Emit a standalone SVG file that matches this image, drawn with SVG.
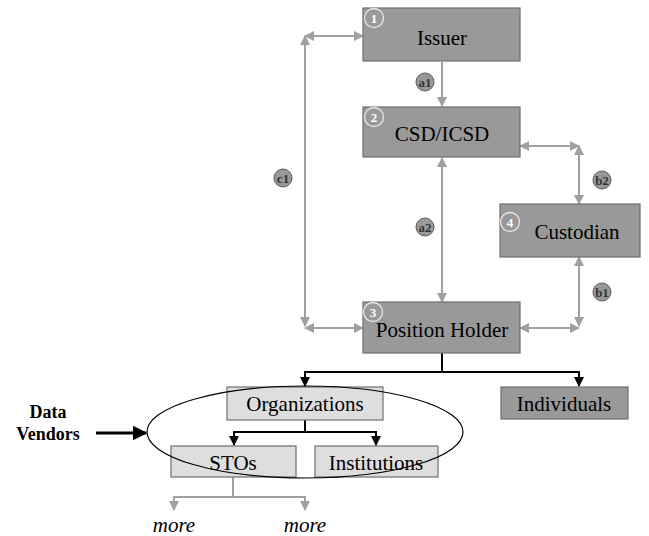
<svg xmlns="http://www.w3.org/2000/svg" width="649" height="536" viewBox="0 0 649 536">
<defs>
<style>
text{font-family:"DejaVu Serif","Liberation Serif","Times New Roman",serif}
.dk{fill:#999999;stroke:#6e6e6e;stroke-width:1.2}
.lt{fill:#dedede;stroke:#6e6e6e;stroke-width:1.2}
.t{font-family:"Liberation Serif","Times New Roman",serif;font-size:21px;fill:#000;text-anchor:middle}
.num{fill:#999999;stroke:#e6e6e6;stroke-width:1.3}
.numt{font-family:"Liberation Serif",serif;font-size:13px;font-weight:bold;fill:#fff;text-anchor:middle}
.lab{fill:#999999;stroke:#5a5a5a;stroke-width:1}
.labt{font-family:"Liberation Serif",serif;font-size:13px;font-weight:bold;fill:#333;text-anchor:middle}
.g{fill:none;stroke:#a0a0a0;stroke-width:2}
.k{fill:none;stroke:#000;stroke-width:2}
.dv{font-family:"Liberation Serif",serif;font-size:18px;font-weight:bold;text-anchor:middle}
</style>
<marker id="ag" viewBox="0 0 10 10" refX="9" refY="5" markerWidth="5" markerHeight="5" orient="auto-start-reverse" markerUnits="strokeWidth"><path d="M0,0 L10,5 L0,10 z" fill="#a0a0a0"/></marker>
<marker id="ak" viewBox="0 0 10 10" refX="9" refY="5" markerWidth="5" markerHeight="5" orient="auto" markerUnits="strokeWidth"><path d="M0,0 L10,5 L0,10 z" fill="#000"/></marker>
</defs>
<rect width="649" height="536" fill="#fff"/>

<g id="connectors">
<line class="g" x1="442" y1="62" x2="442" y2="106" marker-end="url(#ag)"/>
<line class="g" x1="442" y1="158" x2="442" y2="302" marker-start="url(#ag)" marker-end="url(#ag)"/>
<line class="g" x1="305" y1="36" x2="363" y2="36" marker-start="url(#ag)" marker-end="url(#ag)"/>
<line class="g" x1="305" y1="36" x2="305" y2="326" marker-start="url(#ag)" marker-end="url(#ag)"/>
<line class="g" x1="305" y1="328" x2="363" y2="328" marker-start="url(#ag)" marker-end="url(#ag)"/>
<line class="g" x1="520" y1="146" x2="579" y2="146" marker-start="url(#ag)" marker-end="url(#ag)"/>
<line class="g" x1="579" y1="146" x2="579" y2="204" marker-start="url(#ag)" marker-end="url(#ag)"/>
<line class="g" x1="579" y1="257" x2="579" y2="326" marker-start="url(#ag)" marker-end="url(#ag)"/>
<line class="g" x1="520" y1="328" x2="579" y2="328" marker-start="url(#ag)" marker-end="url(#ag)"/>
<path class="k" d="M442,353 V372"/>
<path class="k" d="M305,372 H579"/>
<line class="k" x1="305" y1="371" x2="305" y2="386" marker-end="url(#ak)"/>
<line class="k" x1="579" y1="371" x2="579" y2="386" marker-end="url(#ak)"/>
<path class="k" d="M305,420 V432"/>
<path class="k" d="M234,432 H376"/>
<line class="k" x1="234" y1="431" x2="234" y2="445" marker-end="url(#ak)"/>
<line class="k" x1="376" y1="431" x2="376" y2="445" marker-end="url(#ak)"/>
<path class="g" d="M233,477 V497"/>
<path class="g" d="M174,497 H305"/>
<line class="g" x1="174" y1="496" x2="174" y2="510" marker-end="url(#ag)"/>
<line class="g" x1="305" y1="496" x2="305" y2="510" marker-end="url(#ag)"/>
<line x1="96" y1="433" x2="146" y2="433" stroke="#000" stroke-width="3" marker-end="url(#ak)"/>
</g>

<g id="labels">
<circle class="lab" cx="425" cy="82" r="9"/><text class="labt" x="425" y="86.5">a1</text>
<circle class="lab" cx="425" cy="227" r="9"/><text class="labt" x="425" y="231.5">a2</text>
<circle class="lab" cx="283" cy="178" r="9"/><text class="labt" x="283" y="182.5">c1</text>
<circle class="lab" cx="602" cy="180" r="9"/><text class="labt" x="602" y="184.5">b2</text>
<circle class="lab" cx="602" cy="292" r="9"/><text class="labt" x="602" y="296.5">b1</text>
</g>

<g id="issuer">
<rect class="dk" x="363" y="8" width="157" height="53"/>
<circle class="num" cx="374" cy="18" r="9.5"/><text class="numt" x="374" y="22.5">1</text>
<text class="t" x="442" y="45">Issuer</text>
</g>
<g id="csd">
<rect class="dk" x="363" y="107" width="157" height="50"/>
<circle class="num" cx="374" cy="117" r="9.5"/><text class="numt" x="374" y="121.5">2</text>
<text class="t" x="442" y="141">CSD/ICSD</text>
</g>
<g id="custodian">
<rect class="dk" x="500" y="204" width="140" height="53"/>
<circle class="num" cx="510" cy="222" r="9.5"/><text class="numt" x="510" y="226.5">4</text>
<text class="t" x="577" y="239">Custodian</text>
</g>
<g id="position-holder">
<rect class="dk" x="363" y="302" width="157" height="51"/>
<circle class="num" cx="373" cy="312" r="9.5"/><text class="numt" x="373" y="316.5">3</text>
<text class="t" x="442" y="337">Position Holder</text>
</g>
<g id="organizations">
<rect class="lt" x="227" y="387" width="156" height="33"/>
<text class="t" x="305" y="411">Organizations</text>
</g>
<g id="individuals">
<rect class="dk" x="501" y="387" width="127" height="32"/>
<text class="t" x="564" y="411">Individuals</text>
</g>
<g id="stos">
<rect class="lt" x="171" y="446" width="125" height="31"/>
<text class="t" x="233" y="470">STOs</text>
</g>
<g id="institutions">
<rect class="lt" x="315" y="446" width="123" height="31"/>
<text class="t" x="376" y="470">Institutions</text>
</g>
<g id="ellipse">
<ellipse cx="305" cy="432" rx="158" ry="46" fill="none" stroke="#000" stroke-width="1.2"/>
</g>
<g id="data-vendors">
<text class="dv" x="48" y="418">Data</text>
<text class="dv" x="48" y="440">Vendors</text>
</g>
<g id="more">
<text class="t" font-style="italic" x="174" y="532">more</text>
<text class="t" font-style="italic" x="305" y="532">more</text>
</g>
</svg>
